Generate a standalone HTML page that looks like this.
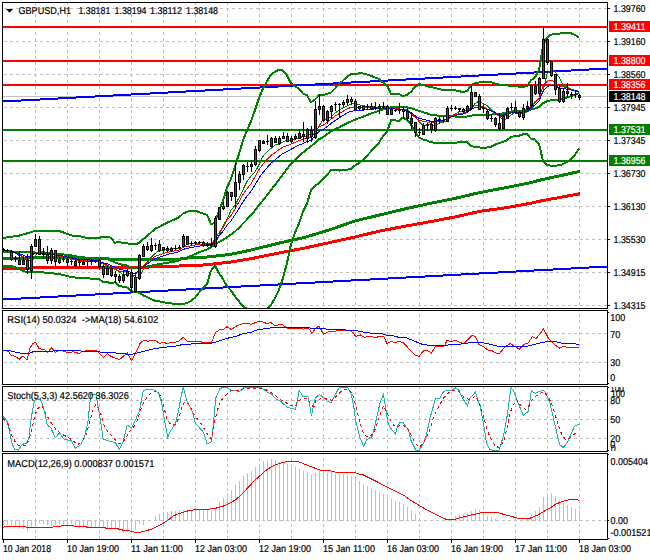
<!DOCTYPE html>
<html><head><meta charset="utf-8"><style>
html,body{margin:0;padding:0;background:#fff;}
svg{display:block;}
text{font-family:"Liberation Sans",sans-serif;text-rendering:geometricPrecision;stroke-width:0.2px;}
</style></head><body>
<svg width="650" height="560" viewBox="0 0 650 560">
<rect width="650" height="560" fill="#fff"/>
<defs><clipPath id="cm"><rect x="3" y="3" width="604" height="305"/></clipPath>
<clipPath id="cr"><rect x="3" y="311" width="604" height="73"/></clipPath>
<clipPath id="cs"><rect x="3" y="387" width="604" height="64"/></clipPath>
<clipPath id="cd"><rect x="3" y="454" width="604" height="85"/></clipPath>
<clipPath id="cst"><rect x="608" y="387" width="42" height="64"/></clipPath></defs>
<g shape-rendering="crispEdges"><rect x="35" y="3" width="1" height="2" fill="#c0c0c0"/><line x1="35.5" y1="8" x2="35.5" y2="539" stroke="#c0c0c0" stroke-dasharray="3 3"/><rect x="67" y="3" width="1" height="2" fill="#c0c0c0"/><line x1="67.5" y1="8" x2="67.5" y2="539" stroke="#c0c0c0" stroke-dasharray="3 3"/><rect x="99" y="3" width="1" height="2" fill="#c0c0c0"/><line x1="99.5" y1="8" x2="99.5" y2="539" stroke="#c0c0c0" stroke-dasharray="3 3"/><rect x="131" y="3" width="1" height="2" fill="#c0c0c0"/><line x1="131.5" y1="8" x2="131.5" y2="539" stroke="#c0c0c0" stroke-dasharray="3 3"/><rect x="163" y="3" width="1" height="2" fill="#c0c0c0"/><line x1="163.5" y1="8" x2="163.5" y2="539" stroke="#c0c0c0" stroke-dasharray="3 3"/><rect x="195" y="3" width="1" height="2" fill="#c0c0c0"/><line x1="195.5" y1="8" x2="195.5" y2="539" stroke="#c0c0c0" stroke-dasharray="3 3"/><rect x="227" y="3" width="1" height="2" fill="#c0c0c0"/><line x1="227.5" y1="8" x2="227.5" y2="539" stroke="#c0c0c0" stroke-dasharray="3 3"/><rect x="259" y="3" width="1" height="2" fill="#c0c0c0"/><line x1="259.5" y1="8" x2="259.5" y2="539" stroke="#c0c0c0" stroke-dasharray="3 3"/><rect x="291" y="3" width="1" height="2" fill="#c0c0c0"/><line x1="291.5" y1="8" x2="291.5" y2="539" stroke="#c0c0c0" stroke-dasharray="3 3"/><rect x="323" y="3" width="1" height="2" fill="#c0c0c0"/><line x1="323.5" y1="8" x2="323.5" y2="539" stroke="#c0c0c0" stroke-dasharray="3 3"/><rect x="355" y="3" width="1" height="2" fill="#c0c0c0"/><line x1="355.5" y1="8" x2="355.5" y2="539" stroke="#c0c0c0" stroke-dasharray="3 3"/><rect x="387" y="3" width="1" height="2" fill="#c0c0c0"/><line x1="387.5" y1="8" x2="387.5" y2="539" stroke="#c0c0c0" stroke-dasharray="3 3"/><rect x="419" y="3" width="1" height="2" fill="#c0c0c0"/><line x1="419.5" y1="8" x2="419.5" y2="539" stroke="#c0c0c0" stroke-dasharray="3 3"/><rect x="451" y="3" width="1" height="2" fill="#c0c0c0"/><line x1="451.5" y1="8" x2="451.5" y2="539" stroke="#c0c0c0" stroke-dasharray="3 3"/><rect x="483" y="3" width="1" height="2" fill="#c0c0c0"/><line x1="483.5" y1="8" x2="483.5" y2="539" stroke="#c0c0c0" stroke-dasharray="3 3"/><rect x="515" y="3" width="1" height="2" fill="#c0c0c0"/><line x1="515.5" y1="8" x2="515.5" y2="539" stroke="#c0c0c0" stroke-dasharray="3 3"/><rect x="547" y="3" width="1" height="2" fill="#c0c0c0"/><line x1="547.5" y1="8" x2="547.5" y2="539" stroke="#c0c0c0" stroke-dasharray="3 3"/><rect x="579" y="3" width="1" height="2" fill="#c0c0c0"/><line x1="579.5" y1="8" x2="579.5" y2="539" stroke="#c0c0c0" stroke-dasharray="3 3"/><line x1="4" y1="8.5" x2="607" y2="8.5" stroke="#c0c0c0" stroke-dasharray="3 3"/><line x1="4" y1="41.5" x2="607" y2="41.5" stroke="#c0c0c0" stroke-dasharray="3 3"/><line x1="4" y1="74.5" x2="607" y2="74.5" stroke="#c0c0c0" stroke-dasharray="3 3"/><line x1="4" y1="107.5" x2="607" y2="107.5" stroke="#c0c0c0" stroke-dasharray="3 3"/><line x1="4" y1="140.5" x2="607" y2="140.5" stroke="#c0c0c0" stroke-dasharray="3 3"/><line x1="4" y1="173.5" x2="607" y2="173.5" stroke="#c0c0c0" stroke-dasharray="3 3"/><line x1="4" y1="206.5" x2="607" y2="206.5" stroke="#c0c0c0" stroke-dasharray="3 3"/><line x1="4" y1="239.5" x2="607" y2="239.5" stroke="#c0c0c0" stroke-dasharray="3 3"/><line x1="4" y1="272.5" x2="607" y2="272.5" stroke="#c0c0c0" stroke-dasharray="3 3"/><line x1="4" y1="305.5" x2="607" y2="305.5" stroke="#c0c0c0" stroke-dasharray="3 3"/><line x1="4" y1="333.5" x2="607" y2="333.5" stroke="#c0c0c0" stroke-dasharray="3 3"/><line x1="4" y1="362.5" x2="607" y2="362.5" stroke="#c0c0c0" stroke-dasharray="3 3"/><line x1="4" y1="400.5" x2="607" y2="400.5" stroke="#c0c0c0" stroke-dasharray="3 3"/><line x1="4" y1="419.5" x2="607" y2="419.5" stroke="#c0c0c0" stroke-dasharray="3 3"/><line x1="4" y1="438.5" x2="607" y2="438.5" stroke="#c0c0c0" stroke-dasharray="3 3"/><line x1="4" y1="520.5" x2="607" y2="520.5" stroke="#c0c0c0" stroke-dasharray="3 3"/></g>
<g clip-path="url(#cm)" shape-rendering="crispEdges"><rect x="3" y="26" width="604" height="2" fill="#ff0000"/><rect x="3" y="60" width="604" height="2" fill="#ff0000"/><rect x="3" y="84" width="604" height="2" fill="#ff0000"/><rect x="3" y="129" width="604" height="2" fill="#008000"/><rect x="3" y="160" width="604" height="2" fill="#008000"/><rect x="3" y="96" width="604" height="1" fill="#c0c0c0"/><rect x="3" y="100" width="18" height="2" fill="#0000ff"/><rect x="21" y="99" width="19" height="2" fill="#0000ff"/><rect x="40" y="98" width="18" height="2" fill="#0000ff"/><rect x="58" y="97" width="18" height="2" fill="#0000ff"/><rect x="76" y="96" width="19" height="2" fill="#0000ff"/><rect x="95" y="95" width="18" height="2" fill="#0000ff"/><rect x="113" y="94" width="18" height="2" fill="#0000ff"/><rect x="131" y="93" width="19" height="2" fill="#0000ff"/><rect x="150" y="92" width="18" height="2" fill="#0000ff"/><rect x="168" y="91" width="18" height="2" fill="#0000ff"/><rect x="186" y="90" width="19" height="2" fill="#0000ff"/><rect x="205" y="89" width="18" height="2" fill="#0000ff"/><rect x="223" y="88" width="18" height="2" fill="#0000ff"/><rect x="241" y="87" width="19" height="2" fill="#0000ff"/><rect x="260" y="86" width="18" height="2" fill="#0000ff"/><rect x="278" y="85" width="18" height="2" fill="#0000ff"/><rect x="296" y="84" width="19" height="2" fill="#0000ff"/><rect x="315" y="83" width="18" height="2" fill="#0000ff"/><rect x="333" y="82" width="18" height="2" fill="#0000ff"/><rect x="351" y="81" width="19" height="2" fill="#0000ff"/><rect x="370" y="80" width="18" height="2" fill="#0000ff"/><rect x="388" y="79" width="18" height="2" fill="#0000ff"/><rect x="406" y="78" width="19" height="2" fill="#0000ff"/><rect x="425" y="77" width="18" height="2" fill="#0000ff"/><rect x="443" y="76" width="18" height="2" fill="#0000ff"/><rect x="461" y="75" width="18" height="2" fill="#0000ff"/><rect x="479" y="74" width="19" height="2" fill="#0000ff"/><rect x="498" y="73" width="18" height="2" fill="#0000ff"/><rect x="516" y="72" width="18" height="2" fill="#0000ff"/><rect x="534" y="71" width="19" height="2" fill="#0000ff"/><rect x="553" y="70" width="18" height="2" fill="#0000ff"/><rect x="571" y="69" width="18" height="2" fill="#0000ff"/><rect x="589" y="68" width="18" height="2" fill="#0000ff"/><rect x="3" y="298" width="18" height="2" fill="#0000ff"/><rect x="21" y="297" width="19" height="2" fill="#0000ff"/><rect x="40" y="296" width="18" height="2" fill="#0000ff"/><rect x="58" y="295" width="18" height="2" fill="#0000ff"/><rect x="76" y="294" width="19" height="2" fill="#0000ff"/><rect x="95" y="293" width="18" height="2" fill="#0000ff"/><rect x="113" y="292" width="18" height="2" fill="#0000ff"/><rect x="131" y="291" width="19" height="2" fill="#0000ff"/><rect x="150" y="290" width="18" height="2" fill="#0000ff"/><rect x="168" y="289" width="18" height="2" fill="#0000ff"/><rect x="186" y="288" width="19" height="2" fill="#0000ff"/><rect x="205" y="287" width="18" height="2" fill="#0000ff"/><rect x="223" y="286" width="18" height="2" fill="#0000ff"/><rect x="241" y="285" width="19" height="2" fill="#0000ff"/><rect x="260" y="284" width="18" height="2" fill="#0000ff"/><rect x="278" y="283" width="18" height="2" fill="#0000ff"/><rect x="296" y="282" width="19" height="2" fill="#0000ff"/><rect x="315" y="281" width="18" height="2" fill="#0000ff"/><rect x="333" y="280" width="18" height="2" fill="#0000ff"/><rect x="351" y="279" width="19" height="2" fill="#0000ff"/><rect x="370" y="278" width="18" height="2" fill="#0000ff"/><rect x="388" y="277" width="18" height="2" fill="#0000ff"/><rect x="406" y="276" width="19" height="2" fill="#0000ff"/><rect x="425" y="275" width="18" height="2" fill="#0000ff"/><rect x="443" y="274" width="18" height="2" fill="#0000ff"/><rect x="461" y="273" width="18" height="2" fill="#0000ff"/><rect x="479" y="272" width="19" height="2" fill="#0000ff"/><rect x="498" y="271" width="18" height="2" fill="#0000ff"/><rect x="516" y="270" width="18" height="2" fill="#0000ff"/><rect x="534" y="269" width="19" height="2" fill="#0000ff"/><rect x="553" y="268" width="18" height="2" fill="#0000ff"/><rect x="571" y="267" width="18" height="2" fill="#0000ff"/><rect x="589" y="266" width="18" height="2" fill="#0000ff"/><polyline points="3.00,268.50 7.00,268.45 11.00,268.39 15.00,268.34 19.00,268.28 23.00,268.23 27.00,268.14 31.00,268.03 35.00,267.92 39.00,267.81 43.00,267.70 47.00,267.58 51.00,267.50 55.00,267.50 59.00,267.50 63.00,267.50 67.00,267.50 71.00,267.50 75.00,267.50 79.00,267.50 83.00,267.50 87.00,267.50 91.00,267.50 95.00,267.50 99.00,267.50 103.00,267.50 107.00,267.50 111.00,267.50 115.00,267.50 119.00,267.50 123.00,267.50 127.00,267.50 131.00,267.50 135.00,267.50 139.00,267.50 143.00,267.34 147.00,267.13 151.00,266.91 155.00,266.70 159.00,266.59 163.00,266.48 167.00,266.36 171.00,266.25 175.00,266.14 179.00,266.03 183.00,265.87 187.00,265.70 191.00,265.52 195.00,265.35 199.00,265.17 203.00,265.00 207.00,264.59 211.00,264.17 215.00,263.76 219.00,263.34 223.00,262.93 227.00,262.51 231.00,262.03 235.00,261.38 239.00,260.71 243.00,260.06 247.00,259.39 251.00,258.70 255.00,257.88 259.00,257.07 263.00,256.26 267.00,255.44 271.00,254.63 275.00,253.82 279.00,253.00 283.00,252.22 287.00,251.46 291.00,250.69 295.00,249.92 299.00,249.15 303.00,248.38 307.00,247.56 311.00,246.68 315.00,245.80 319.00,244.92 323.00,244.04 327.00,243.16 331.00,242.28 335.00,241.40 339.00,240.52 343.00,239.64 347.00,238.76 351.00,237.88 355.00,237.00 359.00,236.04 363.00,235.08 367.00,234.12 371.00,233.16 375.00,232.20 379.00,231.24 383.00,230.42 387.00,229.66 391.00,228.89 395.00,228.12 399.00,227.35 403.00,226.58 407.00,225.84 411.00,225.12 415.00,224.40 419.00,223.68 423.00,222.96 427.00,222.24 431.00,221.51 435.00,220.76 439.00,220.01 443.00,219.26 447.00,218.50 451.00,217.75 455.00,217.00 459.00,216.09 463.00,215.18 467.00,214.26 471.00,213.35 475.00,212.44 479.00,211.53 483.00,210.89 487.00,210.35 491.00,209.80 495.00,209.26 499.00,208.72 503.00,208.17 507.00,207.54 511.00,206.82 515.00,206.10 519.00,205.38 523.00,204.66 527.00,203.94 531.00,203.17 535.00,202.25 539.00,201.33 543.00,200.55 547.00,199.81 551.00,199.07 555.00,198.33 559.00,197.59 563.00,196.85 567.00,196.12 571.00,195.38 575.00,194.64 579.00,193.90" fill="none" stroke="#ff0000" stroke-width="3" shape-rendering="crispEdges" stroke-linecap="round"/><polyline points="3.00,258.50 7.00,258.43 11.00,258.35 15.00,258.28 19.00,258.20 23.00,258.13 27.00,258.06 31.00,257.98 35.00,257.91 39.00,257.83 43.00,257.76 47.00,257.69 51.00,257.61 55.00,257.54 59.00,257.50 63.00,257.50 67.00,257.50 71.00,257.53 75.00,257.67 79.00,257.80 83.00,257.93 87.00,258.07 91.00,258.20 95.00,258.33 99.00,258.47 103.00,258.67 107.00,258.89 111.00,259.11 115.00,259.33 119.00,259.50 123.00,259.50 127.00,259.50 131.00,259.50 135.00,259.50 139.00,259.50 143.00,259.47 147.00,259.43 151.00,259.39 155.00,259.35 159.00,259.31 163.00,259.27 167.00,259.23 171.00,259.19 175.00,259.15 179.00,259.11 183.00,258.68 187.00,258.13 191.00,257.57 195.00,257.47 199.00,257.43 203.00,257.40 207.00,256.99 211.00,256.57 215.00,256.15 219.00,255.69 223.00,255.22 227.00,254.75 231.00,254.19 235.00,253.38 239.00,252.56 243.00,251.74 247.00,250.92 251.00,250.05 255.00,249.07 259.00,248.08 263.00,247.09 267.00,246.11 271.00,245.12 275.00,244.13 279.00,243.15 283.00,242.23 287.00,241.33 291.00,240.44 295.00,239.54 299.00,238.64 303.00,237.75 307.00,236.69 311.00,235.48 315.00,234.26 319.00,233.04 323.00,231.83 327.00,230.61 331.00,229.35 335.00,227.96 339.00,226.57 343.00,225.18 347.00,223.78 351.00,222.39 355.00,221.00 359.00,220.02 363.00,219.05 367.00,218.07 371.00,217.10 375.00,216.12 379.00,215.14 383.00,214.18 387.00,213.22 391.00,212.26 395.00,211.30 399.00,210.34 403.00,209.38 407.00,208.46 411.00,207.58 415.00,206.70 419.00,205.82 423.00,204.94 427.00,204.06 431.00,203.20 435.00,202.40 439.00,201.60 443.00,200.80 447.00,200.00 451.00,199.20 455.00,198.40 459.00,197.46 463.00,196.51 467.00,195.57 471.00,194.62 475.00,193.68 479.00,192.74 483.00,191.94 487.00,191.18 491.00,190.43 495.00,189.68 499.00,188.93 503.00,188.18 507.00,187.40 511.00,186.60 515.00,185.80 519.00,185.00 523.00,184.20 527.00,183.40 531.00,182.53 535.00,181.45 539.00,180.37 543.00,179.45 547.00,178.57 551.00,177.70 555.00,176.83 559.00,175.96 563.00,175.09 567.00,174.22 571.00,173.34 575.00,172.47 579.00,171.60" fill="none" stroke="#008000" stroke-width="3" shape-rendering="crispEdges" stroke-linecap="round"/><polyline points="3.00,238.00 7.00,237.41 11.00,236.82 15.00,236.24 19.00,235.65 23.00,234.60 27.00,233.40 31.00,232.20 35.00,231.00 39.00,231.00 43.00,231.00 47.00,231.00 51.00,231.00 55.00,231.00 59.00,231.00 63.00,232.25 67.00,233.83 71.00,235.17 75.00,236.50 79.00,236.03 83.00,237.01 87.00,238.17 91.00,238.19 95.00,238.28 99.00,238.15 103.00,236.59 107.00,236.73 111.00,237.76 115.00,242.80 119.00,241.93 123.00,243.01 127.00,243.44 131.00,243.75 135.00,244.12 139.00,243.11 143.00,239.28 147.00,236.16 151.00,232.52 155.00,228.84 159.00,227.02 163.00,224.70 167.00,222.75 171.00,220.93 175.00,219.24 179.00,217.38 183.00,213.56 187.00,211.79 191.00,210.91 195.00,210.65 199.00,212.01 203.00,213.51 207.00,214.74 211.00,224.00 215.00,223.04 219.00,210.66 223.00,201.01 227.00,187.67 231.00,178.80 235.00,166.59 239.00,153.97 243.00,140.65 247.00,130.23 251.00,121.42 255.00,110.00 259.00,98.08 263.00,88.34 267.00,81.08 271.00,74.92 275.00,71.77 279.00,69.71 283.00,70.60 287.00,75.34 291.00,83.38 295.00,86.54 299.00,88.61 303.00,93.52 307.00,95.26 311.00,102.27 315.00,99.61 319.00,95.37 323.00,95.13 327.00,93.97 331.00,92.54 335.00,88.53 339.00,84.22 343.00,80.54 347.00,76.82 351.00,74.02 355.00,73.90 359.00,73.30 363.00,73.44 367.00,74.49 371.00,75.86 375.00,77.41 379.00,78.93 383.00,82.51 387.00,85.30 391.00,93.90 395.00,93.87 399.00,93.97 403.00,96.32 407.00,94.66 411.00,91.90 415.00,87.02 419.00,84.31 423.00,84.71 427.00,86.30 431.00,87.13 435.00,87.83 439.00,89.08 443.00,89.87 447.00,90.23 451.00,90.23 455.00,90.34 459.00,91.13 463.00,92.16 467.00,90.88 471.00,85.73 475.00,82.61 479.00,82.54 483.00,82.13 487.00,82.13 491.00,82.28 495.00,83.57 499.00,84.52 503.00,85.03 507.00,85.04 511.00,86.25 515.00,86.32 519.00,86.55 523.00,86.66 527.00,86.38 531.00,80.05 535.00,77.46 539.00,69.85 543.00,45.81 547.00,37.58 551.00,34.63 555.00,33.85 559.00,33.76 563.00,32.99 567.00,33.03 571.00,33.37 575.00,34.79 579.00,37.60" fill="none" stroke="#008000" stroke-width="2" shape-rendering="crispEdges"/><polyline points="3.00,265.50 7.00,265.70 11.00,265.90 15.00,267.00 19.00,269.10 23.00,270.97 27.00,272.03 31.00,272.18 35.00,272.01 39.00,271.84 43.00,272.40 47.00,272.96 51.00,273.28 55.00,273.60 59.00,273.92 63.00,275.00 67.00,276.17 71.00,276.83 75.00,277.50 79.00,278.25 83.00,278.45 87.00,278.39 91.00,278.57 95.00,278.76 99.00,279.04 103.00,281.96 107.00,281.72 111.00,283.56 115.00,282.22 119.00,285.79 123.00,286.84 127.00,287.48 131.00,290.87 135.00,292.08 139.00,292.69 143.00,295.26 147.00,297.00 151.00,299.08 155.00,300.76 159.00,301.37 163.00,302.24 167.00,302.88 171.00,303.39 175.00,303.79 179.00,303.80 183.00,303.83 187.00,303.16 191.00,300.83 195.00,297.73 199.00,292.50 203.00,288.03 207.00,284.17 211.00,270.61 215.00,265.67 219.00,273.25 223.00,278.86 227.00,286.54 231.00,290.47 235.00,296.41 239.00,301.36 243.00,306.45 247.00,308.65 251.00,309.10 255.00,310.66 259.00,311.88 263.00,312.34 267.00,309.38 271.00,305.04 275.00,298.15 279.00,289.82 283.00,278.04 287.00,262.90 291.00,244.21 295.00,232.81 299.00,223.34 303.00,211.46 307.00,203.45 311.00,190.47 315.00,185.84 319.00,183.32 323.00,179.06 327.00,174.75 331.00,170.35 335.00,169.87 339.00,170.56 343.00,170.15 347.00,169.66 351.00,168.80 355.00,165.59 359.00,163.03 363.00,160.19 367.00,155.69 371.00,151.37 375.00,146.96 379.00,142.71 383.00,136.06 387.00,131.71 391.00,120.36 395.00,120.44 399.00,120.74 403.00,117.52 407.00,119.88 411.00,124.34 415.00,132.03 419.00,137.62 423.00,139.52 427.00,140.42 431.00,142.41 435.00,142.58 439.00,142.65 443.00,142.92 447.00,142.73 451.00,142.73 455.00,142.68 459.00,142.27 463.00,141.74 467.00,142.27 471.00,145.73 475.00,147.48 479.00,147.49 483.00,147.57 487.00,147.57 491.00,146.87 495.00,144.71 499.00,143.26 503.00,141.87 507.00,140.22 511.00,136.76 515.00,136.19 519.00,135.65 523.00,134.33 527.00,134.38 531.00,138.41 535.00,139.55 539.00,143.96 543.00,160.87 547.00,164.66 551.00,165.89 555.00,165.90 559.00,165.18 563.00,164.28 567.00,161.73 571.00,159.08 575.00,154.66 579.00,148.77" fill="none" stroke="#008000" stroke-width="2" shape-rendering="crispEdges"/><polyline points="3.00,252.00 7.00,252.06 11.00,252.12 15.00,252.19 19.00,252.25 23.00,252.31 27.00,252.38 31.00,252.44 35.00,252.50 39.00,252.77 43.00,253.04 47.00,253.31 51.00,253.58 55.00,253.85 59.00,254.13 63.00,254.40 67.00,254.76 71.00,255.38 75.00,256.00 79.00,257.14 83.00,257.73 87.00,258.28 91.00,258.38 95.00,258.52 99.00,258.60 103.00,259.28 107.00,259.23 111.00,260.66 115.00,262.51 119.00,263.86 123.00,264.93 127.00,265.46 131.00,267.31 135.00,268.10 139.00,267.90 143.00,267.27 147.00,266.58 151.00,265.80 155.00,264.80 159.00,264.20 163.00,263.47 167.00,262.81 171.00,262.16 175.00,261.51 179.00,260.59 183.00,258.69 187.00,257.47 191.00,255.87 195.00,254.19 199.00,252.25 203.00,250.77 207.00,249.45 211.00,247.31 215.00,244.36 219.00,241.96 223.00,239.94 227.00,237.11 231.00,234.64 235.00,231.50 239.00,227.67 243.00,223.55 247.00,219.44 251.00,215.26 255.00,210.33 259.00,204.98 263.00,200.34 267.00,195.23 271.00,189.98 275.00,184.96 279.00,179.77 283.00,174.32 287.00,169.12 291.00,163.79 295.00,159.68 299.00,155.97 303.00,152.49 307.00,149.36 311.00,146.37 315.00,142.73 319.00,139.35 323.00,137.09 327.00,134.36 331.00,131.44 335.00,129.20 339.00,127.39 343.00,125.34 347.00,123.24 351.00,121.41 355.00,119.75 359.00,118.17 363.00,116.82 367.00,115.09 371.00,113.62 375.00,112.19 379.00,110.82 383.00,109.28 387.00,108.50 391.00,107.13 395.00,107.16 399.00,107.36 403.00,106.92 407.00,107.27 411.00,108.12 415.00,109.53 419.00,110.96 423.00,112.11 427.00,113.36 431.00,114.77 435.00,115.21 439.00,115.87 443.00,116.40 447.00,116.48 451.00,116.48 455.00,116.51 459.00,116.70 463.00,116.95 467.00,116.57 471.00,115.73 475.00,115.04 479.00,115.01 483.00,114.85 487.00,114.85 491.00,114.58 495.00,114.14 499.00,113.89 503.00,113.45 507.00,112.63 511.00,111.50 515.00,111.25 519.00,111.10 523.00,110.50 527.00,110.38 531.00,109.23 535.00,108.50 539.00,106.91 543.00,103.34 547.00,101.12 551.00,100.26 555.00,99.88 559.00,99.47 563.00,98.63 567.00,97.38 571.00,96.23 575.00,94.73 579.00,93.19" fill="none" stroke="#008000" stroke-width="2" shape-rendering="crispEdges"/><polyline points="3.00,250.00 7.00,250.00 11.00,250.00 15.00,253.00 19.00,254.67 23.00,257.78 27.00,258.52 31.00,262.01 35.00,256.77 39.00,250.85 43.00,251.73 47.00,252.39 51.00,255.03 55.00,253.35 59.00,255.97 63.00,256.98 67.00,257.65 71.00,259.23 75.00,259.82 79.00,261.55 83.00,261.83 87.00,261.82 91.00,261.55 95.00,261.37 99.00,261.18 103.00,262.62 107.00,266.28 111.00,266.85 115.00,269.57 119.00,271.71 123.00,274.64 127.00,274.76 131.00,273.51 135.00,278.00 139.00,277.67 143.00,270.11 147.00,262.21 151.00,257.67 155.00,253.58 159.00,250.72 163.00,250.58 167.00,249.49 171.00,248.96 175.00,248.61 179.00,248.37 183.00,247.91 187.00,243.84 191.00,243.76 195.00,243.47 199.00,243.12 203.00,242.68 207.00,243.55 211.00,243.93 215.00,243.96 219.00,235.30 223.00,225.87 227.00,219.25 231.00,210.16 235.00,205.44 239.00,197.73 243.00,189.69 247.00,181.46 251.00,176.20 255.00,172.24 259.00,164.59 263.00,156.39 267.00,151.90 271.00,148.40 275.00,144.90 279.00,143.93 283.00,141.92 287.00,140.08 291.00,140.29 295.00,139.36 299.00,138.11 303.00,136.40 307.00,136.35 311.00,134.03 315.00,134.77 319.00,126.32 323.00,119.54 327.00,119.70 331.00,116.80 335.00,113.20 339.00,110.27 343.00,108.09 347.00,106.06 351.00,103.84 355.00,102.98 359.00,104.90 363.00,105.35 367.00,106.70 371.00,106.55 375.00,107.03 379.00,107.02 383.00,106.55 387.00,106.23 391.00,108.74 395.00,108.74 399.00,109.16 403.00,109.44 407.00,110.04 411.00,112.70 415.00,116.13 419.00,121.59 423.00,125.22 427.00,125.15 431.00,124.90 435.00,126.40 439.00,123.43 443.00,122.09 447.00,121.39 451.00,116.93 455.00,113.95 459.00,111.80 463.00,111.00 467.00,110.87 471.00,109.33 475.00,103.52 479.00,101.10 483.00,103.86 487.00,105.24 491.00,109.50 495.00,112.16 499.00,116.03 503.00,119.85 507.00,118.65 511.00,115.10 515.00,112.37 519.00,112.41 523.00,113.69 527.00,111.79 531.00,109.73 535.00,101.49 539.00,98.66 543.00,91.60 547.00,74.17 551.00,70.05 555.00,71.60 559.00,77.27 563.00,85.26 567.00,87.26 571.00,89.17 575.00,90.91 579.00,91.86" fill="none" stroke="#008000" stroke-width="1" shape-rendering="crispEdges"/><polyline points="3.00,250.00 7.00,250.00 11.00,251.80 15.00,253.04 19.00,255.23 23.00,256.19 27.00,258.75 31.00,256.26 35.00,252.81 39.00,252.95 43.00,253.10 47.00,254.54 51.00,253.63 55.00,255.14 59.00,255.92 63.00,256.53 67.00,257.71 71.00,258.36 75.00,259.69 79.00,260.23 83.00,260.55 87.00,260.64 91.00,260.71 95.00,260.73 99.00,261.68 103.00,264.07 107.00,264.85 111.00,266.88 115.00,268.71 119.00,271.06 123.00,271.85 127.00,271.68 131.00,274.75 135.00,275.20 139.00,271.16 143.00,266.21 147.00,262.68 151.00,259.23 155.00,256.38 159.00,255.17 163.00,253.59 167.00,252.45 171.00,251.54 175.00,250.81 179.00,250.05 183.00,247.18 187.00,246.47 191.00,245.75 195.00,245.08 199.00,244.43 203.00,244.60 207.00,244.62 211.00,244.50 215.00,239.20 219.00,232.76 223.00,227.41 227.00,220.32 231.00,215.46 235.00,208.83 239.00,201.78 243.00,194.43 247.00,188.68 251.00,183.80 255.00,176.90 259.00,169.52 263.00,164.20 267.00,159.64 271.00,155.29 275.00,152.63 279.00,149.69 283.00,147.03 287.00,145.76 291.00,144.11 295.00,142.41 299.00,140.53 303.00,139.67 307.00,137.62 311.00,137.34 315.00,131.75 319.00,126.60 323.00,125.28 327.00,122.43 331.00,119.14 335.00,116.19 339.00,113.70 343.00,111.36 347.00,108.97 351.00,107.43 355.00,107.69 359.00,107.40 363.00,107.80 367.00,107.49 371.00,107.59 375.00,107.47 379.00,107.10 383.00,106.80 387.00,108.19 391.00,108.30 395.00,108.64 399.00,108.91 403.00,109.38 407.00,111.10 411.00,113.48 415.00,117.29 419.00,120.33 423.00,121.26 427.00,121.89 431.00,123.39 435.00,122.21 439.00,121.65 443.00,121.32 447.00,118.66 451.00,116.53 455.00,114.72 459.00,113.66 463.00,113.05 467.00,111.69 471.00,107.73 475.00,105.43 479.00,106.23 483.00,106.58 487.00,108.86 491.00,110.59 495.00,113.22 499.00,116.08 503.00,116.11 507.00,114.49 511.00,112.97 515.00,112.88 519.00,113.55 523.00,112.44 527.00,111.07 531.00,105.86 535.00,103.29 539.00,98.13 543.00,86.36 547.00,81.45 551.00,80.10 555.00,81.80 559.00,85.69 563.00,86.80 567.00,88.04 571.00,89.31 575.00,90.20 579.00,91.50" fill="none" stroke="#ff0000" stroke-width="1" shape-rendering="crispEdges"/><polyline points="3.00,250.00 7.00,250.00 11.00,251.38 15.00,252.40 19.00,254.19 23.00,255.08 27.00,257.22 31.00,255.54 35.00,253.00 39.00,253.07 43.00,253.17 47.00,254.27 51.00,253.61 55.00,254.78 59.00,255.43 63.00,255.98 67.00,256.97 71.00,257.59 75.00,258.73 79.00,259.29 83.00,259.68 87.00,259.88 91.00,260.05 95.00,260.17 99.00,260.99 103.00,262.93 107.00,263.71 111.00,265.45 115.00,267.07 119.00,269.14 123.00,270.04 127.00,270.19 131.00,272.77 135.00,273.42 139.00,270.59 143.00,266.87 147.00,264.06 151.00,261.19 155.00,258.70 159.00,257.40 163.00,255.85 167.00,254.63 171.00,253.59 175.00,252.72 179.00,251.84 183.00,249.35 187.00,248.47 191.00,247.61 195.00,246.81 199.00,246.04 203.00,245.93 207.00,245.74 211.00,245.47 215.00,241.24 219.00,235.98 223.00,231.36 227.00,225.31 231.00,220.80 235.00,214.88 239.00,208.53 243.00,201.83 247.00,196.27 251.00,191.35 255.00,184.88 259.00,177.98 263.00,172.58 267.00,167.78 271.00,163.19 275.00,159.93 279.00,156.54 283.00,153.44 287.00,151.48 291.00,149.33 295.00,147.22 299.00,145.03 303.00,143.68 307.00,141.48 311.00,140.68 315.00,135.87 319.00,131.27 323.00,129.54 327.00,126.68 331.00,123.50 335.00,120.56 339.00,117.98 343.00,115.52 347.00,113.04 351.00,111.23 355.00,110.84 359.00,110.14 363.00,110.02 367.00,109.44 371.00,109.22 375.00,108.88 379.00,108.38 383.00,107.95 387.00,108.84 391.00,108.83 395.00,109.01 399.00,109.16 403.00,109.48 407.00,110.79 411.00,112.67 415.00,115.72 419.00,118.30 423.00,119.33 427.00,120.11 431.00,121.54 435.00,120.92 439.00,120.69 443.00,120.58 447.00,118.64 451.00,117.01 455.00,115.54 459.00,114.60 463.00,113.98 467.00,112.79 471.00,109.58 475.00,107.53 479.00,107.82 483.00,107.84 487.00,109.41 491.00,110.65 495.00,112.67 499.00,114.95 503.00,115.15 507.00,114.05 511.00,112.95 515.00,112.88 519.00,113.40 523.00,112.57 527.00,111.50 531.00,107.42 535.00,105.20 539.00,100.94 543.00,91.46 547.00,86.89 551.00,85.02 555.00,85.57 559.00,87.98 563.00,88.48 567.00,89.18 571.00,89.98 575.00,90.56 579.00,91.51" fill="none" stroke="#0000ff" stroke-width="1" shape-rendering="crispEdges"/><rect x="3" y="248" width="1" height="4" fill="#000"/><rect x="2" y="249" width="3" height="2" fill="#000"/><rect x="7" y="249" width="1" height="3" fill="#000"/><rect x="6" y="250" width="3" height="1" fill="#000"/><rect x="11" y="250" width="1" height="11" fill="#000"/><rect x="10" y="251" width="3" height="9" fill="#000"/><rect x="11" y="252" width="1" height="7" fill="#ff0000"/><rect x="15" y="256" width="1" height="6" fill="#000"/><rect x="14" y="258" width="3" height="1" fill="#000"/><rect x="19" y="251" width="1" height="14" fill="#000"/><rect x="18" y="260" width="3" height="5" fill="#000"/><rect x="19" y="261" width="1" height="3" fill="#ff0000"/><rect x="23" y="257" width="1" height="8" fill="#000"/><rect x="22" y="260" width="3" height="5" fill="#000"/><rect x="23" y="261" width="1" height="3" fill="#008000"/><rect x="27" y="254" width="1" height="20" fill="#000"/><rect x="26" y="260" width="3" height="10" fill="#000"/><rect x="27" y="261" width="1" height="8" fill="#ff0000"/><rect x="31" y="244" width="1" height="35" fill="#000"/><rect x="30" y="246" width="3" height="25" fill="#000"/><rect x="31" y="247" width="1" height="23" fill="#008000"/><rect x="35" y="234" width="1" height="13" fill="#000"/><rect x="34" y="239" width="3" height="8" fill="#000"/><rect x="35" y="240" width="1" height="6" fill="#008000"/><rect x="39" y="236" width="1" height="19" fill="#000"/><rect x="38" y="239" width="3" height="16" fill="#000"/><rect x="39" y="240" width="1" height="14" fill="#ff0000"/><rect x="43" y="248" width="1" height="11" fill="#000"/><rect x="42" y="254" width="3" height="1" fill="#000"/><rect x="47" y="246" width="1" height="18" fill="#000"/><rect x="46" y="254" width="3" height="7" fill="#000"/><rect x="47" y="255" width="1" height="5" fill="#ff0000"/><rect x="51" y="248" width="1" height="16" fill="#000"/><rect x="50" y="250" width="3" height="11" fill="#000"/><rect x="51" y="251" width="1" height="9" fill="#008000"/><rect x="55" y="250" width="1" height="17" fill="#000"/><rect x="54" y="250" width="3" height="12" fill="#000"/><rect x="55" y="251" width="1" height="10" fill="#ff0000"/><rect x="59" y="257" width="1" height="7" fill="#000"/><rect x="58" y="259" width="3" height="4" fill="#000"/><rect x="59" y="260" width="1" height="2" fill="#008000"/><rect x="63" y="256" width="1" height="6" fill="#000"/><rect x="62" y="259" width="3" height="1" fill="#000"/><rect x="67" y="258" width="1" height="9" fill="#000"/><rect x="66" y="259" width="3" height="4" fill="#000"/><rect x="67" y="260" width="1" height="2" fill="#ff0000"/><rect x="71" y="260" width="1" height="5" fill="#000"/><rect x="70" y="261" width="3" height="1" fill="#000"/><rect x="75" y="259" width="1" height="8" fill="#000"/><rect x="74" y="261" width="3" height="5" fill="#000"/><rect x="75" y="262" width="1" height="3" fill="#ff0000"/><rect x="79" y="260" width="1" height="7" fill="#000"/><rect x="78" y="262" width="3" height="1" fill="#000"/><rect x="83" y="260" width="1" height="5" fill="#000"/><rect x="82" y="262" width="3" height="3" fill="#000"/><rect x="83" y="263" width="1" height="1" fill="#008000"/><rect x="87" y="260" width="1" height="9" fill="#000"/><rect x="86" y="261" width="3" height="1" fill="#000"/><rect x="91" y="259" width="1" height="6" fill="#000"/><rect x="90" y="261" width="3" height="1" fill="#000"/><rect x="95" y="260" width="1" height="3" fill="#000"/><rect x="94" y="261" width="3" height="1" fill="#000"/><rect x="99" y="259" width="1" height="11" fill="#000"/><rect x="98" y="260" width="3" height="7" fill="#000"/><rect x="99" y="261" width="1" height="5" fill="#ff0000"/><rect x="103" y="265" width="1" height="13" fill="#000"/><rect x="102" y="266" width="3" height="9" fill="#000"/><rect x="103" y="267" width="1" height="7" fill="#ff0000"/><rect x="107" y="266" width="1" height="9" fill="#000"/><rect x="106" y="268" width="3" height="7" fill="#000"/><rect x="107" y="269" width="1" height="5" fill="#008000"/><rect x="111" y="267" width="1" height="10" fill="#000"/><rect x="110" y="268" width="3" height="8" fill="#000"/><rect x="111" y="269" width="1" height="6" fill="#ff0000"/><rect x="115" y="271" width="1" height="12" fill="#000"/><rect x="114" y="274" width="3" height="3" fill="#000"/><rect x="115" y="275" width="1" height="1" fill="#ff0000"/><rect x="119" y="274" width="1" height="9" fill="#000"/><rect x="118" y="276" width="3" height="5" fill="#000"/><rect x="119" y="277" width="1" height="3" fill="#ff0000"/><rect x="123" y="271" width="1" height="12" fill="#000"/><rect x="122" y="275" width="3" height="6" fill="#000"/><rect x="123" y="276" width="1" height="4" fill="#008000"/><rect x="127" y="269" width="1" height="8" fill="#000"/><rect x="126" y="271" width="3" height="5" fill="#000"/><rect x="127" y="272" width="1" height="3" fill="#008000"/><rect x="131" y="269" width="1" height="23" fill="#000"/><rect x="130" y="272" width="3" height="16" fill="#000"/><rect x="131" y="273" width="1" height="14" fill="#ff0000"/><rect x="135" y="275" width="1" height="18" fill="#000"/><rect x="134" y="277" width="3" height="15" fill="#000"/><rect x="135" y="278" width="1" height="13" fill="#008000"/><rect x="139" y="254" width="1" height="26" fill="#000"/><rect x="138" y="255" width="3" height="24" fill="#000"/><rect x="139" y="256" width="1" height="22" fill="#008000"/><rect x="143" y="244" width="1" height="13" fill="#000"/><rect x="142" y="246" width="3" height="11" fill="#000"/><rect x="143" y="247" width="1" height="9" fill="#008000"/><rect x="147" y="242" width="1" height="9" fill="#000"/><rect x="146" y="246" width="3" height="4" fill="#000"/><rect x="147" y="247" width="1" height="2" fill="#ff0000"/><rect x="151" y="238" width="1" height="14" fill="#000"/><rect x="150" y="245" width="3" height="6" fill="#000"/><rect x="151" y="246" width="1" height="4" fill="#008000"/><rect x="155" y="243" width="1" height="7" fill="#000"/><rect x="154" y="245" width="3" height="1" fill="#000"/><rect x="159" y="240" width="1" height="12" fill="#000"/><rect x="158" y="244" width="3" height="7" fill="#000"/><rect x="159" y="245" width="1" height="5" fill="#ff0000"/><rect x="163" y="247" width="1" height="6" fill="#000"/><rect x="162" y="247" width="3" height="3" fill="#000"/><rect x="163" y="248" width="1" height="1" fill="#008000"/><rect x="167" y="246" width="1" height="6" fill="#000"/><rect x="166" y="248" width="3" height="3" fill="#000"/><rect x="167" y="249" width="1" height="1" fill="#008000"/><rect x="171" y="247" width="1" height="5" fill="#000"/><rect x="170" y="248" width="3" height="3" fill="#000"/><rect x="171" y="249" width="1" height="1" fill="#008000"/><rect x="175" y="245" width="1" height="5" fill="#000"/><rect x="174" y="248" width="3" height="1" fill="#000"/><rect x="179" y="245" width="1" height="4" fill="#000"/><rect x="178" y="247" width="3" height="1" fill="#000"/><rect x="183" y="234" width="1" height="13" fill="#000"/><rect x="182" y="236" width="3" height="11" fill="#000"/><rect x="183" y="237" width="1" height="9" fill="#008000"/><rect x="187" y="236" width="1" height="9" fill="#000"/><rect x="186" y="236" width="3" height="9" fill="#000"/><rect x="187" y="237" width="1" height="7" fill="#ff0000"/><rect x="191" y="241" width="1" height="5" fill="#000"/><rect x="190" y="243" width="3" height="1" fill="#000"/><rect x="195" y="241" width="1" height="4" fill="#000"/><rect x="194" y="242" width="3" height="1" fill="#000"/><rect x="199" y="241" width="1" height="3" fill="#000"/><rect x="198" y="242" width="3" height="1" fill="#000"/><rect x="203" y="241" width="1" height="6" fill="#000"/><rect x="202" y="242" width="3" height="4" fill="#000"/><rect x="203" y="243" width="1" height="2" fill="#ff0000"/><rect x="207" y="242" width="1" height="5" fill="#000"/><rect x="206" y="244" width="3" height="2" fill="#000"/><rect x="211" y="238" width="1" height="9" fill="#000"/><rect x="210" y="244" width="3" height="1" fill="#000"/><rect x="215" y="216" width="1" height="32" fill="#000"/><rect x="214" y="218" width="3" height="29" fill="#000"/><rect x="215" y="219" width="1" height="27" fill="#008000"/><rect x="219" y="207" width="1" height="13" fill="#000"/><rect x="218" y="207" width="3" height="13" fill="#000"/><rect x="219" y="208" width="1" height="11" fill="#008000"/><rect x="223" y="202" width="1" height="8" fill="#000"/><rect x="222" y="206" width="3" height="3" fill="#000"/><rect x="223" y="207" width="1" height="1" fill="#008000"/><rect x="227" y="191" width="1" height="16" fill="#000"/><rect x="226" y="192" width="3" height="15" fill="#000"/><rect x="227" y="193" width="1" height="13" fill="#008000"/><rect x="231" y="192" width="1" height="9" fill="#000"/><rect x="230" y="192" width="3" height="5" fill="#000"/><rect x="231" y="193" width="1" height="3" fill="#ff0000"/><rect x="235" y="163" width="1" height="46" fill="#000"/><rect x="234" y="182" width="3" height="15" fill="#000"/><rect x="235" y="183" width="1" height="13" fill="#008000"/><rect x="239" y="171" width="1" height="19" fill="#000"/><rect x="238" y="174" width="3" height="9" fill="#000"/><rect x="239" y="175" width="1" height="7" fill="#008000"/><rect x="243" y="164" width="1" height="16" fill="#000"/><rect x="242" y="165" width="3" height="10" fill="#000"/><rect x="243" y="166" width="1" height="8" fill="#008000"/><rect x="247" y="162" width="1" height="10" fill="#000"/><rect x="246" y="166" width="3" height="1" fill="#000"/><rect x="251" y="160" width="1" height="12" fill="#000"/><rect x="250" y="164" width="3" height="3" fill="#000"/><rect x="251" y="165" width="1" height="1" fill="#008000"/><rect x="255" y="146" width="1" height="20" fill="#000"/><rect x="254" y="149" width="3" height="16" fill="#000"/><rect x="255" y="150" width="1" height="14" fill="#008000"/><rect x="259" y="140" width="1" height="12" fill="#000"/><rect x="258" y="140" width="3" height="11" fill="#000"/><rect x="259" y="141" width="1" height="9" fill="#008000"/><rect x="263" y="140" width="1" height="4" fill="#000"/><rect x="262" y="141" width="3" height="3" fill="#000"/><rect x="263" y="142" width="1" height="1" fill="#ff0000"/><rect x="267" y="135" width="1" height="10" fill="#000"/><rect x="266" y="141" width="3" height="1" fill="#000"/><rect x="271" y="137" width="1" height="10" fill="#000"/><rect x="270" y="138" width="3" height="9" fill="#000"/><rect x="271" y="139" width="1" height="7" fill="#008000"/><rect x="275" y="136" width="1" height="7" fill="#000"/><rect x="274" y="138" width="3" height="5" fill="#000"/><rect x="275" y="139" width="1" height="3" fill="#ff0000"/><rect x="279" y="136" width="1" height="9" fill="#000"/><rect x="278" y="138" width="3" height="6" fill="#000"/><rect x="279" y="139" width="1" height="4" fill="#008000"/><rect x="283" y="132" width="1" height="7" fill="#000"/><rect x="282" y="136" width="3" height="3" fill="#000"/><rect x="283" y="137" width="1" height="1" fill="#008000"/><rect x="287" y="133" width="1" height="9" fill="#000"/><rect x="286" y="136" width="3" height="6" fill="#000"/><rect x="287" y="137" width="1" height="4" fill="#ff0000"/><rect x="291" y="136" width="1" height="7" fill="#000"/><rect x="290" y="138" width="3" height="4" fill="#000"/><rect x="291" y="139" width="1" height="2" fill="#008000"/><rect x="295" y="134" width="1" height="6" fill="#000"/><rect x="294" y="136" width="3" height="3" fill="#000"/><rect x="295" y="137" width="1" height="1" fill="#008000"/><rect x="299" y="129" width="1" height="10" fill="#000"/><rect x="298" y="133" width="3" height="6" fill="#000"/><rect x="299" y="134" width="1" height="4" fill="#008000"/><rect x="303" y="122" width="1" height="20" fill="#000"/><rect x="302" y="134" width="3" height="3" fill="#000"/><rect x="303" y="135" width="1" height="1" fill="#ff0000"/><rect x="307" y="128" width="1" height="15" fill="#000"/><rect x="306" y="129" width="3" height="10" fill="#000"/><rect x="307" y="130" width="1" height="8" fill="#008000"/><rect x="311" y="126" width="1" height="16" fill="#000"/><rect x="310" y="130" width="3" height="7" fill="#000"/><rect x="311" y="131" width="1" height="5" fill="#ff0000"/><rect x="315" y="101" width="1" height="38" fill="#000"/><rect x="314" y="109" width="3" height="29" fill="#000"/><rect x="315" y="110" width="1" height="27" fill="#008000"/><rect x="319" y="94" width="1" height="21" fill="#000"/><rect x="318" y="106" width="3" height="4" fill="#000"/><rect x="319" y="107" width="1" height="2" fill="#008000"/><rect x="323" y="105" width="1" height="17" fill="#000"/><rect x="322" y="106" width="3" height="15" fill="#000"/><rect x="323" y="107" width="1" height="13" fill="#ff0000"/><rect x="327" y="110" width="1" height="14" fill="#000"/><rect x="326" y="111" width="3" height="10" fill="#000"/><rect x="327" y="112" width="1" height="8" fill="#008000"/><rect x="331" y="105" width="1" height="14" fill="#000"/><rect x="330" y="106" width="3" height="6" fill="#000"/><rect x="331" y="107" width="1" height="4" fill="#008000"/><rect x="335" y="102" width="1" height="9" fill="#000"/><rect x="334" y="104" width="3" height="1" fill="#000"/><rect x="339" y="103" width="1" height="14" fill="#000"/><rect x="338" y="104" width="3" height="1" fill="#000"/><rect x="343" y="100" width="1" height="7" fill="#000"/><rect x="342" y="102" width="3" height="3" fill="#000"/><rect x="343" y="103" width="1" height="1" fill="#008000"/><rect x="347" y="95" width="1" height="10" fill="#000"/><rect x="346" y="99" width="3" height="4" fill="#000"/><rect x="347" y="100" width="1" height="2" fill="#008000"/><rect x="351" y="97" width="1" height="8" fill="#000"/><rect x="350" y="99" width="3" height="3" fill="#000"/><rect x="351" y="100" width="1" height="1" fill="#ff0000"/><rect x="355" y="99" width="1" height="11" fill="#000"/><rect x="354" y="101" width="3" height="9" fill="#000"/><rect x="355" y="102" width="1" height="7" fill="#ff0000"/><rect x="359" y="106" width="1" height="5" fill="#000"/><rect x="358" y="106" width="3" height="3" fill="#000"/><rect x="359" y="107" width="1" height="1" fill="#008000"/><rect x="363" y="106" width="1" height="5" fill="#000"/><rect x="362" y="106" width="3" height="4" fill="#000"/><rect x="363" y="107" width="1" height="2" fill="#ff0000"/><rect x="367" y="104" width="1" height="6" fill="#000"/><rect x="366" y="106" width="3" height="1" fill="#000"/><rect x="371" y="103" width="1" height="7" fill="#000"/><rect x="370" y="106" width="3" height="3" fill="#000"/><rect x="371" y="107" width="1" height="1" fill="#ff0000"/><rect x="375" y="102" width="1" height="8" fill="#000"/><rect x="374" y="107" width="3" height="1" fill="#000"/><rect x="379" y="104" width="1" height="10" fill="#000"/><rect x="378" y="106" width="3" height="3" fill="#000"/><rect x="379" y="107" width="1" height="1" fill="#008000"/><rect x="383" y="102" width="1" height="7" fill="#000"/><rect x="382" y="106" width="3" height="1" fill="#000"/><rect x="387" y="105" width="1" height="10" fill="#000"/><rect x="386" y="106" width="3" height="9" fill="#000"/><rect x="387" y="107" width="1" height="7" fill="#ff0000"/><rect x="391" y="108" width="1" height="7" fill="#000"/><rect x="390" y="109" width="3" height="6" fill="#000"/><rect x="391" y="110" width="1" height="4" fill="#008000"/><rect x="395" y="109" width="1" height="3" fill="#000"/><rect x="394" y="110" width="3" height="1" fill="#000"/><rect x="399" y="103" width="1" height="11" fill="#000"/><rect x="398" y="110" width="3" height="1" fill="#000"/><rect x="403" y="106" width="1" height="13" fill="#000"/><rect x="402" y="109" width="3" height="3" fill="#000"/><rect x="403" y="110" width="1" height="1" fill="#ff0000"/><rect x="407" y="108" width="1" height="13" fill="#000"/><rect x="406" y="111" width="3" height="8" fill="#000"/><rect x="407" y="112" width="1" height="6" fill="#ff0000"/><rect x="411" y="112" width="1" height="17" fill="#000"/><rect x="410" y="118" width="3" height="6" fill="#000"/><rect x="411" y="119" width="1" height="4" fill="#ff0000"/><rect x="415" y="122" width="1" height="15" fill="#000"/><rect x="414" y="122" width="3" height="11" fill="#000"/><rect x="415" y="123" width="1" height="9" fill="#ff0000"/><rect x="419" y="128" width="1" height="8" fill="#000"/><rect x="418" y="132" width="3" height="1" fill="#000"/><rect x="423" y="123" width="1" height="12" fill="#000"/><rect x="422" y="125" width="3" height="10" fill="#000"/><rect x="423" y="126" width="1" height="8" fill="#008000"/><rect x="427" y="123" width="1" height="8" fill="#000"/><rect x="426" y="124" width="3" height="1" fill="#000"/><rect x="431" y="122" width="1" height="11" fill="#000"/><rect x="430" y="124" width="3" height="6" fill="#000"/><rect x="431" y="125" width="1" height="4" fill="#ff0000"/><rect x="435" y="117" width="1" height="15" fill="#000"/><rect x="434" y="118" width="3" height="13" fill="#000"/><rect x="435" y="119" width="1" height="11" fill="#008000"/><rect x="439" y="117" width="1" height="7" fill="#000"/><rect x="438" y="119" width="3" height="1" fill="#000"/><rect x="443" y="116" width="1" height="7" fill="#000"/><rect x="442" y="120" width="3" height="1" fill="#000"/><rect x="447" y="106" width="1" height="16" fill="#000"/><rect x="446" y="108" width="3" height="14" fill="#000"/><rect x="447" y="109" width="1" height="12" fill="#008000"/><rect x="451" y="105" width="1" height="6" fill="#000"/><rect x="450" y="108" width="3" height="1" fill="#000"/><rect x="455" y="106" width="1" height="4" fill="#000"/><rect x="454" y="108" width="3" height="1" fill="#000"/><rect x="459" y="108" width="1" height="4" fill="#000"/><rect x="458" y="108" width="3" height="2" fill="#000"/><rect x="463" y="108" width="1" height="5" fill="#000"/><rect x="462" y="109" width="3" height="3" fill="#000"/><rect x="463" y="110" width="1" height="1" fill="#ff0000"/><rect x="467" y="105" width="1" height="8" fill="#000"/><rect x="466" y="106" width="3" height="6" fill="#000"/><rect x="467" y="107" width="1" height="4" fill="#008000"/><rect x="471" y="86" width="1" height="24" fill="#000"/><rect x="470" y="92" width="3" height="17" fill="#000"/><rect x="471" y="93" width="1" height="15" fill="#008000"/><rect x="475" y="92" width="1" height="5" fill="#000"/><rect x="474" y="92" width="3" height="5" fill="#000"/><rect x="475" y="93" width="1" height="3" fill="#ff0000"/><rect x="479" y="94" width="1" height="16" fill="#000"/><rect x="478" y="96" width="3" height="14" fill="#000"/><rect x="479" y="97" width="1" height="12" fill="#ff0000"/><rect x="483" y="105" width="1" height="8" fill="#000"/><rect x="482" y="108" width="3" height="1" fill="#000"/><rect x="487" y="109" width="1" height="11" fill="#000"/><rect x="486" y="111" width="3" height="8" fill="#000"/><rect x="487" y="112" width="1" height="6" fill="#ff0000"/><rect x="491" y="114" width="1" height="8" fill="#000"/><rect x="490" y="118" width="3" height="1" fill="#000"/><rect x="495" y="117" width="1" height="10" fill="#000"/><rect x="494" y="118" width="3" height="7" fill="#000"/><rect x="495" y="119" width="1" height="5" fill="#ff0000"/><rect x="499" y="113" width="1" height="17" fill="#000"/><rect x="498" y="123" width="3" height="6" fill="#000"/><rect x="499" y="124" width="1" height="4" fill="#ff0000"/><rect x="503" y="115" width="1" height="14" fill="#000"/><rect x="502" y="116" width="3" height="13" fill="#000"/><rect x="503" y="117" width="1" height="11" fill="#008000"/><rect x="507" y="107" width="1" height="12" fill="#000"/><rect x="506" y="108" width="3" height="11" fill="#000"/><rect x="507" y="109" width="1" height="9" fill="#008000"/><rect x="511" y="103" width="1" height="7" fill="#000"/><rect x="510" y="107" width="3" height="1" fill="#000"/><rect x="515" y="101" width="1" height="13" fill="#000"/><rect x="514" y="107" width="3" height="6" fill="#000"/><rect x="515" y="108" width="1" height="4" fill="#ff0000"/><rect x="519" y="111" width="1" height="7" fill="#000"/><rect x="518" y="112" width="3" height="5" fill="#000"/><rect x="519" y="113" width="1" height="3" fill="#ff0000"/><rect x="523" y="104" width="1" height="16" fill="#000"/><rect x="522" y="108" width="3" height="10" fill="#000"/><rect x="523" y="109" width="1" height="8" fill="#008000"/><rect x="527" y="101" width="1" height="9" fill="#000"/><rect x="526" y="106" width="3" height="3" fill="#000"/><rect x="527" y="107" width="1" height="1" fill="#008000"/><rect x="531" y="84" width="1" height="23" fill="#000"/><rect x="530" y="85" width="3" height="21" fill="#000"/><rect x="531" y="86" width="1" height="19" fill="#008000"/><rect x="535" y="81" width="1" height="14" fill="#000"/><rect x="534" y="86" width="3" height="8" fill="#000"/><rect x="535" y="87" width="1" height="6" fill="#ff0000"/><rect x="539" y="77" width="1" height="18" fill="#000"/><rect x="538" y="78" width="3" height="16" fill="#000"/><rect x="539" y="79" width="1" height="14" fill="#008000"/><rect x="543" y="26" width="1" height="53" fill="#000"/><rect x="542" y="39" width="3" height="40" fill="#000"/><rect x="543" y="40" width="1" height="38" fill="#008000"/><rect x="547" y="39" width="1" height="26" fill="#000"/><rect x="546" y="39" width="3" height="24" fill="#000"/><rect x="547" y="40" width="1" height="22" fill="#ff0000"/><rect x="551" y="61" width="1" height="16" fill="#000"/><rect x="550" y="61" width="3" height="15" fill="#000"/><rect x="551" y="62" width="1" height="13" fill="#ff0000"/><rect x="555" y="74" width="1" height="21" fill="#000"/><rect x="554" y="74" width="3" height="16" fill="#000"/><rect x="555" y="75" width="1" height="14" fill="#ff0000"/><rect x="559" y="85" width="1" height="18" fill="#000"/><rect x="558" y="88" width="3" height="14" fill="#000"/><rect x="559" y="89" width="1" height="12" fill="#ff0000"/><rect x="563" y="88" width="1" height="15" fill="#000"/><rect x="562" y="91" width="3" height="11" fill="#000"/><rect x="563" y="92" width="1" height="9" fill="#008000"/><rect x="567" y="83" width="1" height="15" fill="#000"/><rect x="566" y="91" width="3" height="3" fill="#000"/><rect x="567" y="92" width="1" height="1" fill="#ff0000"/><rect x="571" y="92" width="1" height="7" fill="#000"/><rect x="570" y="94" width="3" height="1" fill="#000"/><rect x="575" y="91" width="1" height="7" fill="#000"/><rect x="574" y="94" width="3" height="1" fill="#000"/><rect x="579" y="94" width="1" height="6" fill="#000"/><rect x="578" y="95" width="3" height="3" fill="#000"/><rect x="579" y="96" width="1" height="1" fill="#ff0000"/></g>
<g shape-rendering="crispEdges"><polyline points="3.00,350.40 8.50,351.20 10.80,355.00 15.40,356.50 19.20,359.20 23.00,355.80 26.90,360.10 30.00,348.10 32.30,344.20 35.70,342.20 39.20,348.80 44.60,349.60 47.70,352.40 51.50,347.80 55.40,352.40 59.20,350.40 63.00,350.80 66.90,352.40 73.80,351.90 79.20,353.50 81.50,351.50 89.20,350.40 95.40,350.40 98.10,351.90 103.50,357.30 107.30,353.50 111.20,356.50 119.60,359.60 127.30,352.70 131.50,360.40 135.00,354.20 140.40,342.70 144.20,340.40 148.10,341.20 150.40,340.40 155.00,340.40 159.60,343.50 162.70,342.20 167.30,343.50 171.90,342.20 178.10,341.90 183.50,337.30 187.30,341.20 195.00,341.20 200.80,341.50 202.30,342.70 211.50,342.70 215.40,332.70 219.20,329.90 223.80,329.20 226.90,326.50 231.20,329.60 236.20,326.10 242.30,323.90 245.40,323.50 251.50,324.20 259.20,321.20 262.30,321.90 266.90,323.50 270.80,322.40 274.60,325.50 282.30,324.50 285.00,326.50 288.10,328.50 300.40,328.10 303.50,329.20 305.80,328.10 308.80,328.50 311.90,333.20 315.80,328.10 318.10,326.50 319.60,327.00 323.50,334.20 328.10,331.90 334.20,331.20 343.50,330.40 349.60,330.40 352.70,332.20 355.80,336.50 360.40,335.00 364.20,337.30 368.80,336.50 375.80,337.30 380.40,336.50 383.80,336.50 386.90,343.50 390.80,341.50 395.40,342.40 399.20,341.50 403.10,342.70 415.40,355.30 419.20,356.20 423.80,350.40 427.70,350.70 431.50,353.20 435.40,346.50 442.30,347.00 444.60,345.80 446.90,340.40 450.80,341.50 455.40,340.40 460.00,342.40 463.80,343.50 472.30,335.30 475.40,336.50 478.70,344.50 483.30,346.40 487.90,350.10 491.60,350.40 495.30,352.80 499.00,354.10 504.50,347.30 510.10,343.60 514.70,346.40 519.30,349.10 523.90,344.50 528.50,342.70 532.20,336.80 535.90,338.60 540.50,333.50 543.30,328.80 546.00,333.50 548.80,339.00 554.30,344.50 559.90,348.20 563.60,346.40 567.30,347.30 579.20,347.30" fill="none" stroke="#ff0000" stroke-width="1" shape-rendering="crispEdges"/><polyline points="3.00,350.40 9.20,350.70 18.50,352.70 22.30,353.50 28.50,353.50 33.80,351.50 46.00,351.50 61.50,350.40 66.00,350.80 95.00,351.20 102.70,352.40 113.50,352.70 122.70,353.90 131.90,354.20 141.20,351.90 153.50,348.80 164.20,347.30 175.00,346.20 184.20,344.20 190.00,344.20 194.60,343.20 211.50,343.20 217.70,341.50 226.90,338.40 236.20,336.20 243.80,333.50 251.50,332.20 257.70,329.60 266.90,328.50 274.60,327.30 290.00,327.30 309.60,327.30 310.40,328.50 325.00,328.50 326.50,329.60 345.00,329.60 346.50,330.40 357.30,330.40 358.80,331.50 361.90,331.90 369.60,332.70 371.20,333.50 381.90,333.50 386.20,335.00 392.30,335.50 398.50,337.30 406.20,337.80 410.80,339.60 420.00,343.50 423.10,344.50 430.80,345.50 444.60,345.50 450.80,344.50 463.10,343.90 469.20,342.70 475.00,342.30 484.20,343.00 499.00,346.40 511.90,346.40 528.50,346.00 537.70,343.60 548.80,341.20 556.20,341.80 563.60,343.60 572.80,343.60 579.20,344.50" fill="none" stroke="#0000ff" stroke-width="1" shape-rendering="crispEdges"/><polyline points="3.00,416.20 5.50,419.20 8.00,422.90 9.80,432.80 11.70,442.60 14.80,449.40 18.50,450.00 21.50,445.10 24.00,443.80 26.50,443.80 28.90,437.70 31.40,416.80 34.50,400.20 36.90,398.90 39.40,399.50 41.80,402.00 44.30,410.60 47.40,425.40 50.50,427.20 55.40,437.70 59.70,432.50 63.40,438.90 67.10,439.90 71.40,440.80 75.10,448.20 78.00,446.30 79.80,445.70 84.20,438.30 87.80,422.90 90.30,399.50 90.90,394.00 94.00,394.40 96.50,394.00 97.10,400.80 100.20,418.60 103.20,438.90 110.00,441.40 115.50,442.60 119.20,449.40 122.90,442.60 127.20,425.40 129.70,426.60 131.50,427.80 135.80,419.20 139.50,410.60 143.20,390.90 146.90,389.10 153.10,389.40 155.50,390.90 158.50,392.80 161.50,402.00 164.60,420.50 167.70,437.10 170.20,431.50 175.70,422.90 178.80,409.40 181.20,395.80 183.30,387.20 184.90,393.40 186.80,400.80 192.90,413.10 195.40,423.50 198.50,426.60 203.40,432.20 207.10,443.80 211.40,442.00 213.20,426.60 215.70,398.30 220.00,388.50 223.10,387.50 227.40,387.80 231.10,390.30 234.00,390.30 238.90,391.50 241.40,390.30 243.80,387.20 246.30,387.80 261.10,387.80 264.80,390.30 268.50,392.80 270.90,393.40 275.80,398.90 280.80,401.40 286.90,406.90 290.60,408.20 295.50,409.40 297.40,400.80 299.20,390.30 302.90,396.50 307.80,396.50 309.10,402.00 311.50,415.50 313.40,405.70 315.10,398.30 319.40,394.40 324.30,398.30 327.40,401.40 331.10,403.20 334.80,395.80 339.10,387.50 342.80,387.00 347.70,387.80 351.40,394.60 353.80,406.90 355.70,420.50 360.00,437.70 363.70,446.30 366.80,439.50 372.30,436.50 376.00,420.50 380.30,402.00 383.40,394.40 385.80,408.20 387.70,421.70 390.00,427.20 395.50,434.00 397.40,426.60 399.80,422.30 402.90,422.30 408.50,430.30 410.90,440.20 415.80,450.00 419.50,450.00 424.50,441.40 426.90,432.80 430.00,418.00 432.50,409.40 435.50,398.30 439.80,398.30 443.50,391.50 446.60,390.30 451.50,390.30 455.20,387.80 458.90,390.30 462.60,398.30 467.50,405.70 469.80,398.30 475.40,392.20 476.60,395.80 480.30,406.90 483.40,422.90 486.50,442.60 489.50,449.40 493.80,450.60 498.80,450.60 503.70,435.20 507.40,414.30 511.10,387.20 514.20,392.20 517.20,400.80 523.40,415.50 528.30,411.20 531.40,390.90 535.50,393.40 538.60,391.50 543.50,390.30 546.00,393.40 549.70,402.00 553.40,418.00 556.50,431.50 559.50,444.50 563.20,447.50 566.90,443.20 570.60,435.20 574.30,426.60 576.80,425.10 579.20,424.20" fill="none" stroke="#20b2aa" stroke-width="1" shape-rendering="crispEdges"/><polyline points="3.00,418.60 7.40,422.90 9.80,429.10 12.30,436.50 16.00,443.20 19.70,446.30 22.80,445.70 26.50,445.10 28.90,439.50 30.80,432.80 32.60,425.40 35.10,414.30 38.20,408.20 41.80,405.70 44.90,411.80 48.60,418.60 52.90,425.40 56.60,430.30 61.50,434.00 66.50,436.50 72.60,440.20 76.30,443.80 78.00,444.50 82.90,440.20 86.60,434.00 90.30,419.20 92.80,410.60 95.80,404.50 98.30,408.20 101.40,415.50 104.50,426.60 108.80,432.80 113.70,437.70 118.60,443.80 122.30,443.20 126.60,436.50 129.70,431.50 133.40,427.80 137.10,420.50 140.80,409.40 144.50,400.80 149.40,394.60 154.30,391.50 156.00,390.90 159.70,394.60 163.40,404.50 166.50,418.00 170.80,424.80 175.70,424.20 178.80,418.00 181.80,407.50 184.30,402.00 188.00,403.20 192.90,411.80 196.60,418.00 201.50,424.20 206.50,432.80 211.40,438.90 213.80,425.40 216.30,414.30 219.40,403.80 223.10,397.70 227.40,393.40 231.10,390.90 236.00,390.50 240.20,390.30 243.80,388.50 261.10,388.20 266.00,389.70 270.90,392.20 277.10,397.10 283.20,401.40 289.40,404.50 294.90,406.90 298.00,401.40 302.30,398.30 305.40,398.30 308.50,399.50 310.90,405.10 314.00,406.90 315.70,400.80 321.20,398.30 324.30,398.30 328.00,399.50 332.30,400.20 336.60,395.80 340.30,392.20 344.00,389.70 347.70,389.10 351.40,392.20 353.80,398.30 356.30,408.20 359.40,420.50 362.50,431.50 366.20,436.50 369.80,436.50 373.50,433.40 376.60,425.40 380.30,414.30 383.40,405.70 386.50,411.80 389.50,418.00 393.70,425.40 397.40,427.20 402.30,424.20 408.50,429.70 414.60,442.60 419.50,447.50 424.50,441.40 429.40,431.50 433.70,416.80 438.60,406.90 442.90,398.90 447.80,393.40 454.00,390.30 458.90,391.50 463.80,397.10 468.80,399.50 471.70,398.90 475.40,395.80 479.10,402.60 482.80,414.30 486.50,427.80 490.20,437.70 494.50,445.10 499.40,448.20 503.70,441.40 507.40,426.60 510.50,411.80 513.50,404.50 516.60,399.50 520.90,405.70 525.80,409.40 528.30,406.90 531.20,400.80 534.90,397.10 538.60,394.00 543.50,392.20 548.50,397.10 552.80,406.90 555.80,416.80 558.90,426.60 562.00,435.20 565.70,439.50 570.60,437.70 576.80,431.50" fill="none" stroke="#ff0000" stroke-width="1" stroke-dasharray="3 3" shape-rendering="crispEdges"/><rect x="3" y="520" width="1" height="6" fill="#c0c0c0"/><rect x="7" y="520" width="1" height="5" fill="#c0c0c0"/><rect x="11" y="520" width="1" height="5" fill="#c0c0c0"/><rect x="15" y="520" width="1" height="7" fill="#c0c0c0"/><rect x="19" y="520" width="1" height="8" fill="#c0c0c0"/><rect x="23" y="520" width="1" height="9" fill="#c0c0c0"/><rect x="27" y="520" width="1" height="11" fill="#c0c0c0"/><rect x="31" y="520" width="1" height="7" fill="#c0c0c0"/><rect x="35" y="520" width="1" height="5" fill="#c0c0c0"/><rect x="39" y="520" width="1" height="3" fill="#c0c0c0"/><rect x="43" y="520" width="1" height="4" fill="#c0c0c0"/><rect x="47" y="520" width="1" height="5" fill="#c0c0c0"/><rect x="51" y="520" width="1" height="6" fill="#c0c0c0"/><rect x="55" y="520" width="1" height="5" fill="#c0c0c0"/><rect x="59" y="520" width="1" height="4" fill="#c0c0c0"/><rect x="63" y="520" width="1" height="5" fill="#c0c0c0"/><rect x="67" y="520" width="1" height="6" fill="#c0c0c0"/><rect x="71" y="520" width="1" height="4" fill="#c0c0c0"/><rect x="75" y="520" width="1" height="7" fill="#c0c0c0"/><rect x="79" y="520" width="1" height="8" fill="#c0c0c0"/><rect x="83" y="520" width="1" height="8" fill="#c0c0c0"/><rect x="87" y="520" width="1" height="7" fill="#c0c0c0"/><rect x="91" y="520" width="1" height="8" fill="#c0c0c0"/><rect x="95" y="520" width="1" height="7" fill="#c0c0c0"/><rect x="99" y="520" width="1" height="6" fill="#c0c0c0"/><rect x="103" y="520" width="1" height="8" fill="#c0c0c0"/><rect x="107" y="520" width="1" height="8" fill="#c0c0c0"/><rect x="111" y="520" width="1" height="9" fill="#c0c0c0"/><rect x="115" y="520" width="1" height="9" fill="#c0c0c0"/><rect x="119" y="520" width="1" height="11" fill="#c0c0c0"/><rect x="123" y="520" width="1" height="13" fill="#c0c0c0"/><rect x="127" y="520" width="1" height="12" fill="#c0c0c0"/><rect x="131" y="520" width="1" height="11" fill="#c0c0c0"/><rect x="135" y="520" width="1" height="10" fill="#c0c0c0"/><rect x="139" y="520" width="1" height="4" fill="#c0c0c0"/><rect x="143" y="520" width="1" height="5" fill="#c0c0c0"/><rect x="155" y="516" width="1" height="5" fill="#c0c0c0"/><rect x="159" y="514" width="1" height="7" fill="#c0c0c0"/><rect x="163" y="512" width="1" height="9" fill="#c0c0c0"/><rect x="167" y="512" width="1" height="9" fill="#c0c0c0"/><rect x="171" y="511" width="1" height="10" fill="#c0c0c0"/><rect x="175" y="511" width="1" height="10" fill="#c0c0c0"/><rect x="179" y="510" width="1" height="11" fill="#c0c0c0"/><rect x="183" y="510" width="1" height="11" fill="#c0c0c0"/><rect x="187" y="510" width="1" height="11" fill="#c0c0c0"/><rect x="191" y="510" width="1" height="11" fill="#c0c0c0"/><rect x="195" y="510" width="1" height="11" fill="#c0c0c0"/><rect x="199" y="510" width="1" height="11" fill="#c0c0c0"/><rect x="203" y="510" width="1" height="11" fill="#c0c0c0"/><rect x="207" y="510" width="1" height="11" fill="#c0c0c0"/><rect x="211" y="511" width="1" height="10" fill="#c0c0c0"/><rect x="215" y="508" width="1" height="13" fill="#c0c0c0"/><rect x="219" y="502" width="1" height="19" fill="#c0c0c0"/><rect x="223" y="498" width="1" height="23" fill="#c0c0c0"/><rect x="227" y="493" width="1" height="28" fill="#c0c0c0"/><rect x="231" y="490" width="1" height="31" fill="#c0c0c0"/><rect x="235" y="485" width="1" height="36" fill="#c0c0c0"/><rect x="239" y="481" width="1" height="40" fill="#c0c0c0"/><rect x="243" y="476" width="1" height="45" fill="#c0c0c0"/><rect x="247" y="473" width="1" height="48" fill="#c0c0c0"/><rect x="251" y="471" width="1" height="50" fill="#c0c0c0"/><rect x="255" y="467" width="1" height="54" fill="#c0c0c0"/><rect x="259" y="464" width="1" height="57" fill="#c0c0c0"/><rect x="263" y="461" width="1" height="60" fill="#c0c0c0"/><rect x="267" y="460" width="1" height="61" fill="#c0c0c0"/><rect x="271" y="459" width="1" height="62" fill="#c0c0c0"/><rect x="275" y="460" width="1" height="61" fill="#c0c0c0"/><rect x="279" y="462" width="1" height="59" fill="#c0c0c0"/><rect x="283" y="463" width="1" height="58" fill="#c0c0c0"/><rect x="287" y="464" width="1" height="57" fill="#c0c0c0"/><rect x="291" y="464" width="1" height="57" fill="#c0c0c0"/><rect x="295" y="467" width="1" height="54" fill="#c0c0c0"/><rect x="299" y="469" width="1" height="52" fill="#c0c0c0"/><rect x="303" y="471" width="1" height="50" fill="#c0c0c0"/><rect x="307" y="472" width="1" height="49" fill="#c0c0c0"/><rect x="311" y="475" width="1" height="46" fill="#c0c0c0"/><rect x="315" y="473" width="1" height="48" fill="#c0c0c0"/><rect x="319" y="471" width="1" height="50" fill="#c0c0c0"/><rect x="323" y="471" width="1" height="50" fill="#c0c0c0"/><rect x="327" y="473" width="1" height="48" fill="#c0c0c0"/><rect x="331" y="473" width="1" height="48" fill="#c0c0c0"/><rect x="335" y="474" width="1" height="47" fill="#c0c0c0"/><rect x="339" y="474" width="1" height="47" fill="#c0c0c0"/><rect x="343" y="474" width="1" height="47" fill="#c0c0c0"/><rect x="347" y="475" width="1" height="46" fill="#c0c0c0"/><rect x="351" y="476" width="1" height="45" fill="#c0c0c0"/><rect x="355" y="476" width="1" height="45" fill="#c0c0c0"/><rect x="359" y="481" width="1" height="40" fill="#c0c0c0"/><rect x="363" y="484" width="1" height="37" fill="#c0c0c0"/><rect x="367" y="486" width="1" height="35" fill="#c0c0c0"/><rect x="371" y="488" width="1" height="33" fill="#c0c0c0"/><rect x="375" y="490" width="1" height="31" fill="#c0c0c0"/><rect x="379" y="492" width="1" height="29" fill="#c0c0c0"/><rect x="383" y="494" width="1" height="27" fill="#c0c0c0"/><rect x="387" y="494" width="1" height="27" fill="#c0c0c0"/><rect x="391" y="499" width="1" height="22" fill="#c0c0c0"/><rect x="395" y="501" width="1" height="20" fill="#c0c0c0"/><rect x="399" y="502" width="1" height="19" fill="#c0c0c0"/><rect x="403" y="504" width="1" height="17" fill="#c0c0c0"/><rect x="407" y="507" width="1" height="14" fill="#c0c0c0"/><rect x="411" y="510" width="1" height="11" fill="#c0c0c0"/><rect x="415" y="514" width="1" height="7" fill="#c0c0c0"/><rect x="419" y="518" width="1" height="3" fill="#c0c0c0"/><rect x="455" y="516" width="1" height="5" fill="#c0c0c0"/><rect x="459" y="515" width="1" height="6" fill="#c0c0c0"/><rect x="463" y="514" width="1" height="7" fill="#c0c0c0"/><rect x="467" y="514" width="1" height="7" fill="#c0c0c0"/><rect x="471" y="511" width="1" height="10" fill="#c0c0c0"/><rect x="475" y="509" width="1" height="12" fill="#c0c0c0"/><rect x="479" y="510" width="1" height="11" fill="#c0c0c0"/><rect x="483" y="514" width="1" height="7" fill="#c0c0c0"/><rect x="487" y="516" width="1" height="5" fill="#c0c0c0"/><rect x="491" y="517" width="1" height="4" fill="#c0c0c0"/><rect x="495" y="519" width="1" height="2" fill="#c0c0c0"/><rect x="527" y="519" width="1" height="2" fill="#c0c0c0"/><rect x="531" y="514" width="1" height="7" fill="#c0c0c0"/><rect x="535" y="511" width="1" height="10" fill="#c0c0c0"/><rect x="539" y="507" width="1" height="14" fill="#c0c0c0"/><rect x="543" y="497" width="1" height="24" fill="#c0c0c0"/><rect x="547" y="493" width="1" height="28" fill="#c0c0c0"/><rect x="551" y="493" width="1" height="28" fill="#c0c0c0"/><rect x="555" y="496" width="1" height="25" fill="#c0c0c0"/><rect x="559" y="500" width="1" height="21" fill="#c0c0c0"/><rect x="563" y="503" width="1" height="18" fill="#c0c0c0"/><rect x="567" y="505" width="1" height="16" fill="#c0c0c0"/><rect x="571" y="507" width="1" height="14" fill="#c0c0c0"/><rect x="575" y="509" width="1" height="12" fill="#c0c0c0"/><rect x="579" y="510" width="1" height="11" fill="#c0c0c0"/><polyline points="3.00,527.60 4.80,526.50 25.80,526.50 26.40,527.40 52.70,527.40 53.30,526.30 60.80,526.30 61.40,525.20 73.60,525.30 74.10,526.20 85.50,526.20 86.50,527.20 104.80,527.20 105.90,528.20 117.70,528.20 118.80,529.30 122.00,529.30 122.60,530.40 129.60,530.40 130.70,531.40 134.30,532.10 140.80,532.10 146.10,530.70 151.50,529.10 156.90,526.40 162.30,523.70 167.70,520.50 173.10,515.90 178.40,514.00 183.80,512.10 189.20,510.50 196.20,509.60 208.50,509.20 216.20,508.10 222.30,506.50 228.50,503.90 234.60,500.40 239.20,496.80 246.90,488.80 254.60,480.40 260.80,475.00 266.90,469.60 273.10,465.80 279.20,463.50 285.40,461.90 290.00,461.50 297.30,461.50 300.40,462.40 308.10,465.50 315.80,468.50 320.40,470.10 328.10,470.40 335.80,472.20 352.70,472.20 357.30,473.50 363.50,475.00 371.20,478.80 378.80,482.70 380.00,483.50 387.70,487.30 395.40,491.20 404.60,495.80 410.80,500.40 418.50,505.00 426.20,509.60 433.80,513.50 441.50,517.30 446.20,519.30 455.40,519.30 460.00,517.80 466.20,516.20 472.30,514.70 475.00,514.40 482.40,512.20 497.10,512.60 506.40,515.00 517.40,518.10 530.40,518.10 537.70,515.00 545.10,510.70 550.60,507.60 556.20,503.90 563.60,501.10 570.90,499.30 576.50,499.30 579.20,500.80" fill="none" stroke="#ff0000" stroke-width="1" shape-rendering="crispEdges"/></g>
<g shape-rendering="crispEdges"><rect x="2" y="2" width="606" height="1" fill="#000"/><rect x="2" y="308" width="606" height="1" fill="#000"/><rect x="2" y="2" width="1" height="307" fill="#000"/><rect x="607" y="2" width="1" height="307" fill="#000"/><rect x="2" y="310" width="606" height="1" fill="#000"/><rect x="2" y="384" width="606" height="1" fill="#000"/><rect x="2" y="310" width="1" height="75" fill="#000"/><rect x="607" y="310" width="1" height="75" fill="#000"/><rect x="2" y="386" width="606" height="1" fill="#000"/><rect x="2" y="451" width="606" height="1" fill="#000"/><rect x="2" y="386" width="1" height="66" fill="#000"/><rect x="607" y="386" width="1" height="66" fill="#000"/><rect x="2" y="453" width="606" height="1" fill="#000"/><rect x="2" y="539" width="606" height="1" fill="#000"/><rect x="2" y="453" width="1" height="87" fill="#000"/><rect x="607" y="453" width="1" height="87" fill="#000"/><rect x="608" y="8" width="2" height="1" fill="#000"/><rect x="608" y="41" width="2" height="1" fill="#000"/><rect x="608" y="74" width="2" height="1" fill="#000"/><rect x="608" y="107" width="2" height="1" fill="#000"/><rect x="608" y="140" width="2" height="1" fill="#000"/><rect x="608" y="173" width="2" height="1" fill="#000"/><rect x="608" y="206" width="2" height="1" fill="#000"/><rect x="608" y="239" width="2" height="1" fill="#000"/><rect x="608" y="272" width="2" height="1" fill="#000"/><rect x="608" y="305" width="2" height="1" fill="#000"/><rect x="608" y="312" width="1" height="1" fill="#000"/><rect x="608" y="383" width="1" height="1" fill="#000"/><rect x="608" y="387" width="1" height="1" fill="#000"/><rect x="608" y="450" width="1" height="1" fill="#000"/><rect x="608" y="454" width="1" height="1" fill="#000"/><rect x="608" y="520" width="1" height="1" fill="#000"/><rect x="608" y="538" width="1" height="1" fill="#000"/><rect x="3" y="540" width="1" height="3" fill="#000"/><rect x="67" y="540" width="1" height="3" fill="#000"/><rect x="131" y="540" width="1" height="3" fill="#000"/><rect x="195" y="540" width="1" height="3" fill="#000"/><rect x="259" y="540" width="1" height="3" fill="#000"/><rect x="323" y="540" width="1" height="3" fill="#000"/><rect x="387" y="540" width="1" height="3" fill="#000"/><rect x="451" y="540" width="1" height="3" fill="#000"/><rect x="515" y="540" width="1" height="3" fill="#000"/><rect x="579" y="540" width="1" height="3" fill="#000"/></g>
<g><text x="613.5" y="12" font-size="10" fill="#000" stroke="#000" textLength="32" lengthAdjust="spacingAndGlyphs" xml:space="preserve">1.39760</text><text x="613.5" y="45" font-size="10" fill="#000" stroke="#000" textLength="32" lengthAdjust="spacingAndGlyphs" xml:space="preserve">1.39160</text><text x="613.5" y="78" font-size="10" fill="#000" stroke="#000" textLength="32" lengthAdjust="spacingAndGlyphs" xml:space="preserve">1.38560</text><text x="613.5" y="111" font-size="10" fill="#000" stroke="#000" textLength="32" lengthAdjust="spacingAndGlyphs" xml:space="preserve">1.37945</text><text x="613.5" y="144" font-size="10" fill="#000" stroke="#000" textLength="32" lengthAdjust="spacingAndGlyphs" xml:space="preserve">1.37345</text><text x="613.5" y="177" font-size="10" fill="#000" stroke="#000" textLength="32" lengthAdjust="spacingAndGlyphs" xml:space="preserve">1.36730</text><text x="613.5" y="210" font-size="10" fill="#000" stroke="#000" textLength="32" lengthAdjust="spacingAndGlyphs" xml:space="preserve">1.36130</text><text x="613.5" y="243" font-size="10" fill="#000" stroke="#000" textLength="32" lengthAdjust="spacingAndGlyphs" xml:space="preserve">1.35530</text><text x="613.5" y="276" font-size="10" fill="#000" stroke="#000" textLength="32" lengthAdjust="spacingAndGlyphs" xml:space="preserve">1.34915</text><text x="613.5" y="309" font-size="10" fill="#000" stroke="#000" textLength="32" lengthAdjust="spacingAndGlyphs" xml:space="preserve">1.34315</text><rect x="609" y="21" width="41" height="11" fill="#ff0000"/><text x="613.5" y="30" font-size="10" fill="#fff" stroke="#fff" textLength="32" lengthAdjust="spacingAndGlyphs" xml:space="preserve">1.39411</text><rect x="609" y="55" width="41" height="11" fill="#ff0000"/><text x="613.5" y="64" font-size="10" fill="#fff" stroke="#fff" textLength="32" lengthAdjust="spacingAndGlyphs" xml:space="preserve">1.38800</text><rect x="609" y="79" width="41" height="11" fill="#ff0000"/><text x="613.5" y="88" font-size="10" fill="#fff" stroke="#fff" textLength="32" lengthAdjust="spacingAndGlyphs" xml:space="preserve">1.38356</text><rect x="609" y="91" width="41" height="11" fill="#000"/><text x="613.5" y="100" font-size="10" fill="#fff" stroke="#fff" textLength="32" lengthAdjust="spacingAndGlyphs" xml:space="preserve">1.38148</text><rect x="609" y="124" width="41" height="11" fill="#008000"/><text x="613.5" y="133" font-size="10" fill="#fff" stroke="#fff" textLength="32" lengthAdjust="spacingAndGlyphs" xml:space="preserve">1.37531</text><rect x="609" y="155" width="41" height="11" fill="#008000"/><text x="613.5" y="164" font-size="10" fill="#fff" stroke="#fff" textLength="32" lengthAdjust="spacingAndGlyphs" xml:space="preserve">1.36956</text><text x="610.3" y="321" font-size="10" fill="#000" stroke="#000" textLength="15" lengthAdjust="spacingAndGlyphs" xml:space="preserve">100</text><text x="610.3" y="337.5" font-size="10" fill="#000" stroke="#000" textLength="10" lengthAdjust="spacingAndGlyphs" xml:space="preserve">70</text><text x="610.3" y="366" font-size="10" fill="#000" stroke="#000" textLength="10" lengthAdjust="spacingAndGlyphs" xml:space="preserve">30</text><text x="610.3" y="381" font-size="10" fill="#000" stroke="#000" textLength="5" lengthAdjust="spacingAndGlyphs" xml:space="preserve">0</text><g clip-path="url(#cst)"><text x="610" y="392" font-size="10" fill="#000" stroke="#000" textLength="14" lengthAdjust="spacingAndGlyphs" xml:space="preserve">100</text><text x="611" y="397" font-size="10" fill="#000" stroke="#000" textLength="14" lengthAdjust="spacingAndGlyphs" xml:space="preserve">100</text><text x="610.2" y="404" font-size="10" fill="#000" stroke="#000" textLength="10" lengthAdjust="spacingAndGlyphs" xml:space="preserve">80</text><text x="610.2" y="423" font-size="10" fill="#000" stroke="#000" textLength="10" lengthAdjust="spacingAndGlyphs" xml:space="preserve">50</text><text x="610.2" y="442" font-size="10" fill="#000" stroke="#000" textLength="10" lengthAdjust="spacingAndGlyphs" xml:space="preserve">20</text><text x="610.2" y="448" font-size="10" fill="#000" stroke="#000" textLength="5" lengthAdjust="spacingAndGlyphs" xml:space="preserve">0</text><text x="610.7" y="452" font-size="10" fill="#000" stroke="#000" textLength="5" lengthAdjust="spacingAndGlyphs" xml:space="preserve">0</text></g><text x="610.5" y="465" font-size="10" fill="#000" stroke="#000" textLength="37.5" lengthAdjust="spacingAndGlyphs" xml:space="preserve">0.005404</text><text x="610.5" y="524" font-size="10" fill="#000" stroke="#000" textLength="17.5" lengthAdjust="spacingAndGlyphs" xml:space="preserve">0.00</text><text x="610.5" y="536" font-size="10" fill="#000" stroke="#000" textLength="41" lengthAdjust="spacingAndGlyphs" xml:space="preserve">-0.001521</text><text x="3" y="552" font-size="10" fill="#000" stroke="#000" textLength="48" lengthAdjust="spacingAndGlyphs" xml:space="preserve">10 Jan 2018</text><text x="67" y="552" font-size="10" fill="#000" stroke="#000" textLength="52" lengthAdjust="spacingAndGlyphs" xml:space="preserve">10 Jan 19:00</text><text x="131" y="552" font-size="10" fill="#000" stroke="#000" textLength="52" lengthAdjust="spacingAndGlyphs" xml:space="preserve">11 Jan 11:00</text><text x="195" y="552" font-size="10" fill="#000" stroke="#000" textLength="52" lengthAdjust="spacingAndGlyphs" xml:space="preserve">12 Jan 03:00</text><text x="259" y="552" font-size="10" fill="#000" stroke="#000" textLength="52" lengthAdjust="spacingAndGlyphs" xml:space="preserve">12 Jan 19:00</text><text x="323" y="552" font-size="10" fill="#000" stroke="#000" textLength="52" lengthAdjust="spacingAndGlyphs" xml:space="preserve">15 Jan 11:00</text><text x="387" y="552" font-size="10" fill="#000" stroke="#000" textLength="52" lengthAdjust="spacingAndGlyphs" xml:space="preserve">16 Jan 03:00</text><text x="451" y="552" font-size="10" fill="#000" stroke="#000" textLength="52" lengthAdjust="spacingAndGlyphs" xml:space="preserve">16 Jan 19:00</text><text x="515" y="552" font-size="10" fill="#000" stroke="#000" textLength="52" lengthAdjust="spacingAndGlyphs" xml:space="preserve">17 Jan 11:00</text><text x="579" y="552" font-size="10" fill="#000" stroke="#000" textLength="52" lengthAdjust="spacingAndGlyphs" xml:space="preserve">18 Jan 03:00</text><polygon points="6,9 13,9 9.5,12.8" fill="#000"/><text x="18.5" y="14" font-size="10" fill="#000" stroke="#000" textLength="52.5" lengthAdjust="spacingAndGlyphs" xml:space="preserve">GBPUSD,H1</text><text x="78.4" y="14" font-size="10" fill="#000" stroke="#000" textLength="32" lengthAdjust="spacingAndGlyphs" xml:space="preserve">1.38181</text><text x="114.5" y="14" font-size="10" fill="#000" stroke="#000" textLength="32" lengthAdjust="spacingAndGlyphs" xml:space="preserve">1.38194</text><text x="150" y="14" font-size="10" fill="#000" stroke="#000" textLength="32" lengthAdjust="spacingAndGlyphs" xml:space="preserve">1.38112</text><text x="186" y="14" font-size="10" fill="#000" stroke="#000" textLength="32" lengthAdjust="spacingAndGlyphs" xml:space="preserve">1.38148</text><text x="7.3" y="323" font-size="10" fill="#000" stroke="#000" textLength="151" lengthAdjust="spacingAndGlyphs" xml:space="preserve">RSI(14) 50.0324  -&gt;MA(18) 54.6102</text><text x="7.3" y="399" font-size="10" fill="#000" stroke="#000" textLength="121.5" lengthAdjust="spacingAndGlyphs" xml:space="preserve">Stoch(5,3,3) 42.5620 36.3026</text><text x="7.3" y="467" font-size="10" fill="#000" stroke="#000" textLength="147" lengthAdjust="spacingAndGlyphs" xml:space="preserve">MACD(12,26,9) 0.000837 0.001571</text></g>
</svg></body></html>
